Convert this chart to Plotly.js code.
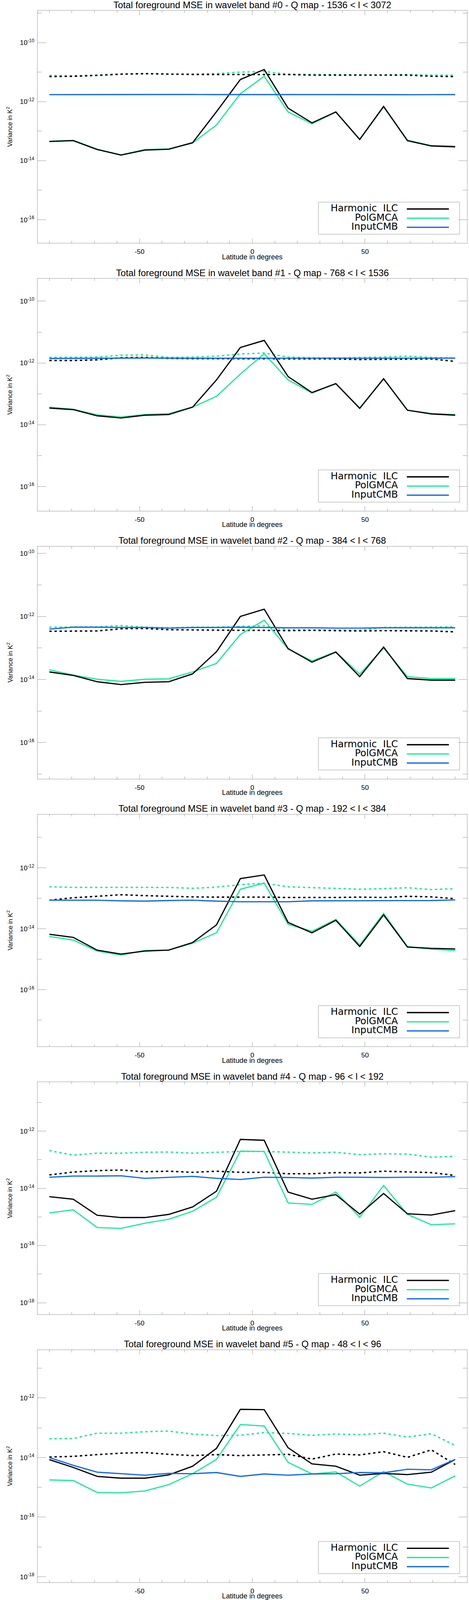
<!DOCTYPE html>
<html>
<head>
<meta charset="utf-8">
<script src="https://cdn.plot.ly/plotly-3.0.1.min.js"></script>
<style>
  html, body { margin: 0; padding: 0; background: #fff; overflow: hidden; }
  #chart { width: 1200px; display: block; }
</style>
</head>
<body>
<div id="chart"></div>
<script>
// Latitude bin centres (degrees)
const lat = [-90, -79.41, -68.82, -58.24, -47.65, -37.06, -26.47, -15.88, -5.29,
             5.29, 15.88, 26.47, 37.06, 47.65, 58.24, 68.82, 79.41, 90];

const seriesNames = ["Harmonic\u00a0 ILC", "PolGMCA", "InputCMB"];

const bandTitles = [
  "Total foreground MSE in wavelet band #0 - Q map - 1536 < l < 3072",
  "Total foreground MSE in wavelet band #1 - Q map - 768 < l < 1536",
  "Total foreground MSE in wavelet band #2 - Q map - 384 < l < 768",
  "Total foreground MSE in wavelet band #3 - Q map - 192 < l < 384",
  "Total foreground MSE in wavelet band #4 - Q map - 96 < l < 192",
  "Total foreground MSE in wavelet band #5 - Q map - 48 < l < 96"
];

const xTickVals = [-50, 0, 50];
const xTickText = ['-50', '0', '50'];
const yMajorExp = [-18, -16, -14, -12, -10];
const yMinorExp = [-19, -17, -15, -13, -11, -9];

// Band #0
const band0Ilc = [4.47e-14, 4.79e-14, 2.40e-14, 1.55e-14, 2.29e-14, 2.45e-14, 4.07e-14, 4.57e-13, 5.62e-12,
                  1.23e-11, 6.03e-13, 1.91e-13, 4.47e-13, 5.25e-14, 6.92e-13, 4.79e-14, 3.16e-14, 2.95e-14];
const band0Gmca = [4.57e-14, 4.90e-14, 2.45e-14, 1.58e-14, 2.40e-14, 2.51e-14, 3.98e-14, 1.62e-13, 1.86e-12,
                   7.24e-12, 4.47e-13, 1.78e-13, 4.47e-13, 5.25e-14, 6.61e-13, 4.90e-14, 3.24e-14, 3.09e-14];
const band0Cmb = [1.73e-12, 1.74e-12, 1.75e-12, 1.75e-12, 1.73e-12, 1.76e-12, 1.75e-12, 1.74e-12, 1.73e-12,
                  1.74e-12, 1.74e-12, 1.74e-12, 1.74e-12, 1.72e-12, 1.72e-12, 1.72e-12, 1.73e-12, 1.74e-12];
const band0IlcDot = [7.08e-12, 7.24e-12, 7.76e-12, 8.51e-12, 8.91e-12, 8.51e-12, 8.32e-12, 8.32e-12, 8.32e-12,
                     8.32e-12, 8.32e-12, 7.94e-12, 7.94e-12, 7.76e-12, 7.76e-12, 7.94e-12, 7.24e-12, 7.08e-12];
const band0GmcaDot = [7.76e-12, 7.41e-12, 7.94e-12, 8.71e-12, 8.91e-12, 8.51e-12, 8.71e-12, 8.91e-12, 1.00e-11,
                      1.05e-11, 8.51e-12, 8.32e-12, 8.32e-12, 7.94e-12, 7.94e-12, 8.32e-12, 7.94e-12, 7.94e-12];

// Band #1
const band1Ilc = [3.47e-14, 3.09e-14, 1.95e-14, 1.66e-14, 2.04e-14, 2.14e-14, 3.72e-14, 2.82e-13, 3.16e-12,
                  5.37e-12, 3.63e-13, 1.10e-13, 2.14e-13, 3.39e-14, 3.09e-13, 2.95e-14, 2.24e-14, 2.04e-14];
const band1Gmca = [3.72e-14, 3.16e-14, 2.09e-14, 1.78e-14, 2.14e-14, 2.29e-14, 3.72e-14, 8.32e-14, 4.37e-13,
                   2.00e-12, 2.82e-13, 1.07e-13, 2.14e-13, 3.47e-14, 3.09e-13, 2.95e-14, 2.29e-14, 2.14e-14];
const band1Cmb = [1.40e-12, 1.42e-12, 1.42e-12, 1.43e-12, 1.44e-12, 1.42e-12, 1.42e-12, 1.42e-12, 1.42e-12,
                  1.42e-12, 1.42e-12, 1.42e-12, 1.42e-12, 1.42e-12, 1.42e-12, 1.42e-12, 1.42e-12, 1.43e-12];
const band1IlcDot = [1.20e-12, 1.20e-12, 1.26e-12, 1.48e-12, 1.51e-12, 1.41e-12, 1.38e-12, 1.38e-12, 1.38e-12,
                     1.38e-12, 1.35e-12, 1.38e-12, 1.35e-12, 1.29e-12, 1.32e-12, 1.35e-12, 1.35e-12, 1.12e-12];
const band1GmcaDot = [1.51e-12, 1.51e-12, 1.55e-12, 1.78e-12, 1.82e-12, 1.51e-12, 1.55e-12, 1.66e-12, 1.95e-12,
                      2.09e-12, 1.55e-12, 1.48e-12, 1.45e-12, 1.51e-12, 1.55e-12, 1.66e-12, 1.51e-12, 1.45e-12];

// Band #2
const band2Ilc = [1.74e-14, 1.35e-14, 8.51e-15, 6.92e-15, 8.13e-15, 8.51e-15, 1.51e-14, 7.59e-14, 1.00e-12,
                  1.70e-12, 9.55e-14, 3.55e-14, 7.41e-14, 1.23e-14, 1.07e-13, 1.07e-14, 9.55e-15, 9.55e-15];
const band2Gmca = [2.04e-14, 1.38e-14, 1.02e-14, 8.71e-15, 1.02e-14, 1.05e-14, 1.74e-14, 3.24e-14, 2.69e-13,
                   7.59e-13, 9.33e-14, 3.89e-14, 7.59e-14, 1.48e-14, 1.00e-13, 1.23e-14, 1.07e-14, 1.07e-14];
const band2Cmb = [3.98e-13, 4.57e-13, 4.57e-13, 4.47e-13, 4.47e-13, 4.27e-13, 4.47e-13, 4.47e-13, 4.57e-13,
                  4.47e-13, 4.37e-13, 4.37e-13, 4.27e-13, 4.27e-13, 4.37e-13, 4.37e-13, 4.37e-13, 4.37e-13];
const band2IlcDot = [3.39e-13, 3.39e-13, 3.47e-13, 4.07e-13, 4.17e-13, 3.80e-13, 3.72e-13, 3.72e-13, 3.63e-13,
                     3.63e-13, 3.55e-13, 3.63e-13, 3.55e-13, 3.47e-13, 3.55e-13, 3.55e-13, 3.47e-13, 3.24e-13];
const band2GmcaDot = [4.57e-13, 4.57e-13, 4.68e-13, 5.13e-13, 4.57e-13, 4.37e-13, 4.57e-13, 4.57e-13, 4.79e-13,
                      5.13e-13, 3.80e-13, 3.72e-13, 3.63e-13, 3.63e-13, 4.47e-13, 4.57e-13, 4.68e-13, 4.68e-13];

// Band #3
const band3Ilc = [6.61e-15, 5.25e-15, 2.00e-15, 1.48e-15, 1.86e-15, 2.00e-15, 3.55e-15, 1.35e-14, 4.47e-13,
                  5.89e-13, 1.62e-14, 7.41e-15, 1.91e-14, 2.63e-15, 2.88e-14, 2.51e-15, 2.29e-15, 2.19e-15];
const band3Gmca = [5.62e-15, 4.27e-15, 1.86e-15, 1.38e-15, 1.95e-15, 2.00e-15, 3.39e-15, 7.41e-15, 2.00e-13,
                   3.16e-13, 1.41e-14, 8.32e-15, 2.04e-14, 2.95e-15, 3.24e-14, 2.63e-15, 2.14e-15, 1.95e-15];
const band3Cmb = [8.71e-14, 8.71e-14, 8.71e-14, 8.32e-14, 8.13e-14, 8.51e-14, 8.71e-14, 8.13e-14, 7.76e-14,
                  7.76e-14, 7.76e-14, 8.32e-14, 8.32e-14, 8.51e-14, 8.32e-14, 8.51e-14, 8.51e-14, 8.91e-14];
const band3IlcDot = [8.71e-14, 1.05e-13, 1.17e-13, 1.32e-13, 1.23e-13, 1.17e-13, 1.12e-13, 1.10e-13, 1.10e-13,
                     1.10e-13, 1.07e-13, 1.07e-13, 1.07e-13, 1.10e-13, 1.07e-13, 1.17e-13, 1.12e-13, 9.77e-14];
const band3GmcaDot = [2.40e-13, 2.29e-13, 2.29e-13, 2.29e-13, 2.34e-13, 2.29e-13, 2.14e-13, 2.34e-13, 2.82e-13,
                      3.16e-13, 2.40e-13, 2.24e-13, 2.14e-13, 2.00e-13, 2.09e-13, 2.24e-13, 1.95e-13, 2.09e-13];

// Band #4
const band4Ilc = [5.13e-15, 4.17e-15, 1.15e-15, 9.55e-16, 9.55e-16, 1.23e-15, 2.24e-15, 7.94e-15, 5.13e-13,
                  4.79e-13, 7.41e-15, 4.17e-15, 6.03e-15, 1.26e-15, 6.61e-15, 1.29e-15, 1.17e-15, 1.66e-15];
const band4Gmca = [1.38e-15, 1.78e-15, 4.27e-16, 3.98e-16, 6.03e-16, 8.32e-16, 1.58e-15, 4.90e-15, 2.00e-13,
                   1.95e-13, 3.09e-15, 2.75e-15, 7.41e-15, 9.77e-16, 1.26e-14, 1.23e-15, 5.37e-16, 5.75e-16];
const band4Cmb = [2.45e-14, 2.69e-14, 2.69e-14, 2.75e-14, 2.24e-14, 2.40e-14, 2.63e-14, 2.24e-14, 2.04e-14,
                  2.45e-14, 2.40e-14, 2.29e-14, 2.45e-14, 2.45e-14, 2.40e-14, 2.45e-14, 2.45e-14, 2.57e-14];
const band4IlcDot = [2.95e-14, 3.72e-14, 4.17e-14, 4.37e-14, 3.80e-14, 3.98e-14, 3.63e-14, 3.98e-14, 3.63e-14,
                     3.63e-14, 3.24e-14, 3.24e-14, 3.55e-14, 3.47e-14, 3.98e-14, 3.80e-14, 3.55e-14, 2.82e-14];
const band4GmcaDot = [2.09e-13, 1.45e-13, 1.70e-13, 1.70e-13, 1.82e-13, 1.86e-13, 1.70e-13, 1.82e-13, 1.95e-13,
                      1.95e-13, 1.86e-13, 1.74e-13, 1.82e-13, 1.51e-13, 1.62e-13, 1.58e-13, 1.23e-13, 1.32e-13];

// Band #5
const band5Ilc = [8.51e-15, 4.68e-15, 2.34e-15, 2.04e-15, 2.04e-15, 2.63e-15, 5.13e-15, 2.04e-14, 4.17e-13,
                  4.07e-13, 2.14e-14, 6.17e-15, 5.13e-15, 2.57e-15, 2.95e-15, 2.69e-15, 3.24e-15, 8.71e-15];
const band5Gmca = [1.78e-15, 1.70e-15, 6.76e-16, 6.61e-16, 7.59e-16, 1.23e-15, 2.88e-15, 8.71e-15, 1.29e-13,
                   1.15e-13, 6.92e-15, 2.82e-15, 3.31e-15, 1.10e-15, 3.39e-15, 1.29e-15, 9.55e-16, 2.45e-15];
const band5Cmb = [1.00e-14, 5.50e-15, 3.24e-15, 2.88e-15, 2.57e-15, 2.95e-15, 2.88e-15, 3.16e-15, 2.34e-15,
                  2.82e-15, 2.57e-15, 2.82e-15, 2.88e-15, 3.16e-15, 3.09e-15, 4.07e-15, 3.89e-15, 8.71e-15];
const band5IlcDot = [1.05e-14, 1.10e-14, 1.26e-14, 1.41e-14, 1.48e-14, 1.29e-14, 1.17e-14, 1.26e-14, 1.17e-14,
                     1.23e-14, 1.29e-14, 8.91e-15, 1.32e-14, 1.23e-14, 1.58e-14, 1.02e-14, 1.82e-14, 5.89e-15];
const band5GmcaDot = [4.27e-14, 4.37e-14, 6.61e-14, 6.61e-14, 7.41e-14, 7.76e-14, 6.17e-14, 5.50e-14, 5.62e-14,
                      6.92e-14, 6.46e-14, 5.62e-14, 6.17e-14, 5.89e-14, 6.61e-14, 4.90e-14, 6.31e-14, 2.57e-14];

const bands = [
  {ilc: band0Ilc, gmca: band0Gmca, cmb: band0Cmb, ilcDot: band0IlcDot, gmcaDot: band0GmcaDot},
  {ilc: band1Ilc, gmca: band1Gmca, cmb: band1Cmb, ilcDot: band1IlcDot, gmcaDot: band1GmcaDot},
  {ilc: band2Ilc, gmca: band2Gmca, cmb: band2Cmb, ilcDot: band2IlcDot, gmcaDot: band2GmcaDot},
  {ilc: band3Ilc, gmca: band3Gmca, cmb: band3Cmb, ilcDot: band3IlcDot, gmcaDot: band3GmcaDot},
  {ilc: band4Ilc, gmca: band4Gmca, cmb: band4Cmb, ilcDot: band4IlcDot, gmcaDot: band4GmcaDot},
  {ilc: band5Ilc, gmca: band5Gmca, cmb: band5Cmb, ilcDot: band5IlcDot, gmcaDot: band5GmcaDot}
];

// log10 y-axis range of each panel
const yRanges = [[-16.79, -8.92], [-16.79, -9.27], [-17.15, -9.78],
                 [-17.87, -10.24], [-18.41, -10.29], [-18.19, -10.39]];

// ---------- geometry (reference pixel frame 1200 x 4975) ----------
const REF_W = 1200, REF_H = 4975, PITCH = 832.9;
const H = Math.min(window.innerHeight || REF_H, REF_H);
const sy = H / REF_H;              // vertical scale to fit the window
const fs = 0.5 + 0.5 * sy;         // compromise scale for font sizes
const PLOT_L = 96.3, PLOT_R = 1194.7, PLOT_T = 33.4, PLOT_B = 755.8;
const px = v => v / REF_W;
const py = v => 1 - v / REF_H;

const BLACK = '#000000', GREEN = '#22e89c', BLUE = '#1468e6', AXIS = '#9a9a9a';
const DOTDASH = '6px,7px';
const FONT = 'Liberation Sans, Arial, Helvetica, sans-serif';

const traces = [];
const shapes = [];
const annotations = [];
const layout = {
  width: REF_W, height: H,
  margin: {l: 0, r: 0, t: 0, b: 0, pad: 0},
  paper_bgcolor: '#ffffff', plot_bgcolor: '#ffffff',
  showlegend: false,
  font: {family: FONT, color: '#000'}
};

for (let i = 0; i < 6; i++) {
  const sfx = i === 0 ? '' : String(i + 1);
  const xr = 'x' + sfx, yr = 'y' + sfx;
  const top = i * PITCH;
  const b = bands[i];

  const lines = [
    {y: b.gmcaDot, color: GREEN, width: 3.6, dash: DOTDASH},
    {y: b.ilcDot, color: BLACK, width: 3.6, dash: DOTDASH},
    {y: b.gmca, color: GREEN, width: 3.1, dash: 'solid'},
    {y: b.ilc, color: BLACK, width: 3.1, dash: 'solid'},
    {y: b.cmb, color: BLUE, width: 3.1, dash: 'solid'}
  ];
  lines.forEach(s => traces.push({
    x: lat, y: s.y, xaxis: xr, yaxis: yr, mode: 'lines',
    line: {color: s.color, width: s.width, dash: s.dash}, hoverinfo: 'skip'
  }));

  layout['xaxis' + sfx] = {
    domain: [px(PLOT_L), px(PLOT_R)], anchor: yr,
    range: [-95.2, 95.2],
    tickmode: 'array', tickvals: xTickVals, ticktext: xTickText,
    ticks: 'inside', ticklen: 14 * sy, tickwidth: 1, tickcolor: AXIS,
    showline: true, linecolor: AXIS, linewidth: 1, mirror: 'ticks',
    showgrid: false, zeroline: false,
    tickfont: {size: 19 * fs, family: FONT},
    ticklabelstandoff: 6,
    minor: {tickmode: 'linear', tick0: 0, dtick: 10, ticks: 'inside', ticklen: 7 * sy,
            tickcolor: AXIS, tickwidth: 1, showgrid: false}
  };
  layout['yaxis' + sfx] = {
    domain: [py(top + PLOT_B), py(top + PLOT_T)], anchor: xr,
    type: 'log', range: yRanges[i],
    tickmode: 'array',
    tickvals: yMajorExp.map(e => Math.pow(10, e)),
    ticktext: yMajorExp.map(e => '10<sup>' + e + '</sup>'),
    ticks: 'inside', ticklen: 22, tickwidth: 1, tickcolor: AXIS,
    showline: true, linecolor: AXIS, linewidth: 1, mirror: 'ticks',
    showgrid: false, zeroline: false,
    tickfont: {size: 19 * fs, family: FONT},
    ticklabelstandoff: 4,
    minor: {tickmode: 'array', tickvals: yMinorExp.map(e => Math.pow(10, e)),
            ticks: 'inside', ticklen: 11, tickcolor: AXIS, tickwidth: 1, showgrid: false}
  };

  // panel title
  annotations.push({
    xref: 'paper', yref: 'paper', x: px((PLOT_L + PLOT_R) / 2), y: py(top + 15.5),
    xanchor: 'center', yanchor: 'middle', showarrow: false,
    text: bandTitles[i], font: {size: 26 * fs, family: FONT, color: '#000'}
  });
  // x-axis title
  annotations.push({
    xref: 'paper', yref: 'paper', x: px((PLOT_L + PLOT_R) / 2), y: py(top + 798),
    xanchor: 'center', yanchor: 'middle', showarrow: false,
    text: 'Latitude in degrees', font: {size: 20 * fs, family: FONT, color: '#000'}
  });
  // y-axis title
  annotations.push({
    xref: 'paper', yref: 'paper', x: px(24.5), y: py(top + 394),
    xanchor: 'center', yanchor: 'middle', showarrow: false, textangle: -90,
    text: 'Variance in K<sup>2</sup>', font: {size: 18 * fs, family: FONT, color: '#000'}
  });

  // legend box (drawn as in the original: labels right-aligned, line sample to the right)
  const legColors = [BLACK, GREEN, BLUE];
  const legY = [0.1467, 0.1071, 0.0678];
  shapes.push({
    type: 'rect', xref: xr + ' domain', yref: yr + ' domain',
    x0: 0.654, x1: 0.983, y0: 0.0379, y1: 0.1764,
    line: {color: AXIS, width: 1}, fillcolor: 'rgba(0,0,0,0)'
  });
  for (let k = 0; k < 3; k++) {
    shapes.push({
      type: 'line', xref: xr + ' domain', yref: yr + ' domain',
      x0: 0.860, x1: 0.958, y0: legY[k], y1: legY[k],
      line: {color: legColors[k], width: 3.3}
    });
    annotations.push({
      xref: xr + ' domain', yref: yr + ' domain', x: 0.841, y: legY[k] + 0.004,
      xanchor: 'right', yanchor: 'middle', showarrow: false,
      text: seriesNames[k],
      font: {family: 'DejaVu Sans, Verdana, sans-serif', size: 27 * fs, color: '#000'}
    });
  }
}

layout.shapes = shapes;
layout.annotations = annotations;

const el = document.getElementById('chart');
el.style.height = H + 'px';
Plotly.newPlot(el, traces, layout, {staticPlot: true, displayModeBar: false});
</script>
</body>
</html>
